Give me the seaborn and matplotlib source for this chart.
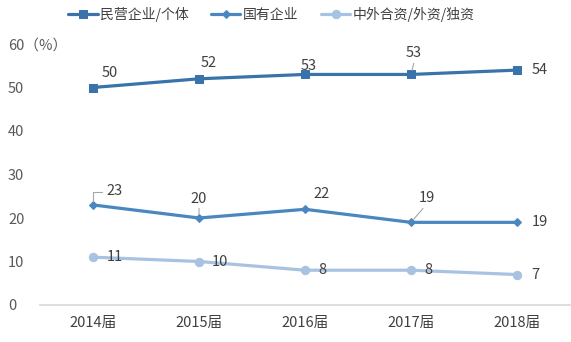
import matplotlib
matplotlib.use("Agg")
import matplotlib.pyplot as plt
import seaborn as sns
import pandas as pd

years = ["2014届", "2015届", "2016届", "2017届", "2018届"]
private = [50, 52, 53, 53, 54]
state = [23, 20, 22, 19, 19]
foreign = [11, 10, 8, 8, 7]
series_names = ["民营企业/个体", "国有企业", "中外合资/外资/独资"]

sns.set_theme(style="white")
plt.rcParams['font.family'] = ['Noto Sans CJK SC', 'DejaVu Sans']

df = pd.DataFrame({
    "year": years * 3,
    "value": private + state + foreign,
    "series": [series_names[0]] * 5 + [series_names[1]] * 5 + [series_names[2]] * 5,
})

colors = ["#3973aa", "#4a87c0", "#a8c3e2"]
markers = ["s", "D", "o"]
msizes = [6, 4.5, 6]

fig = plt.figure(figsize=(5.71, 3.42), dpi=100)
ax = fig.add_axes([40 / 571, 1 - 305 / 342, 530 / 571, (305 - 44) / 342])

for i, name in enumerate(series_names):
    sub = df[df.series == name]
    sns.lineplot(data=sub, x="year", y="value", ax=ax, color=colors[i],
                 marker=markers[i], markersize=msizes[i], markeredgecolor=colors[i],
                 linewidth=2.3, label=name, sort=False)

ax.set_xlim(-0.5, 4.5)
ax.set_ylim(0, 60)
ax.set_yticks([0, 10, 20, 30, 40, 50, 60])
ax.set_yticklabels(["0", "10", "20", "30", "40", "50", "60（%）"])
ax.set_xlabel("")
ax.set_ylabel("")
for s in ["top", "right", "left"]:
    ax.spines[s].set_visible(False)
ax.spines["bottom"].set_color("#d9d9d9")
ax.tick_params(axis="y", length=0, labelsize=10.5, labelcolor="#595959", pad=23)
ax.tick_params(axis="x", length=0, labelsize=10.5, labelcolor="#404040", pad=8)
for lab in ax.get_yticklabels():
    lab.set_horizontalalignment("left")

# data labels (offsets in points)
offs_private = [(12.2, 10.8), (7.2, 11.5), (2.9, 5.8), (2.2, 15.1), (16.6, 0)]
offs_state = [(15.8, 10), (0, 13.7), (12.2, 10.8), (11.5, 17.3), (16.6, 0)]
offs_foreign = [(15.8, 0), (15, 0), (12.2, 0), (12.2, 0), (13, 0)]
for vals, offs in [(private, offs_private), (state, offs_state), (foreign, offs_foreign)]:
    for j, (v, o) in enumerate(zip(vals, offs)):
        ax.annotate(str(v), xy=(j, v), xytext=o, textcoords="offset points",
                    ha="center", va="center", fontsize=10.5, color="#404040")

# leader lines
lead = dict(arrowstyle="-", color="#a6a6a6", lw=0.8, shrinkA=0, shrinkB=3)
ax.annotate("", xy=(0, state[0]), xytext=(6.5, 9.4), textcoords="offset points",
            arrowprops=dict(lead, connectionstyle="angle,angleA=0,angleB=90,rad=0"))
ax.annotate("", xy=(1, state[1]), xytext=(0, 7), textcoords="offset points",
            arrowprops=lead)
ax.annotate("", xy=(3, state[3]), xytext=(8.6, 10), textcoords="offset points",
            arrowprops=lead)
ax.annotate("", xy=(3, private[3]), xytext=(2, 8), textcoords="offset points",
            arrowprops=lead)

leg = ax.legend(loc="center", bbox_to_anchor=(0.437, (305 - 14) / 261), ncol=3,
                frameon=False, fontsize=10, handlelength=2.1, columnspacing=1.6,
                handletextpad=0.2)
for t in leg.get_texts():
    t.set_color("#404040")

fig.savefig("out.png", dpi=100)
